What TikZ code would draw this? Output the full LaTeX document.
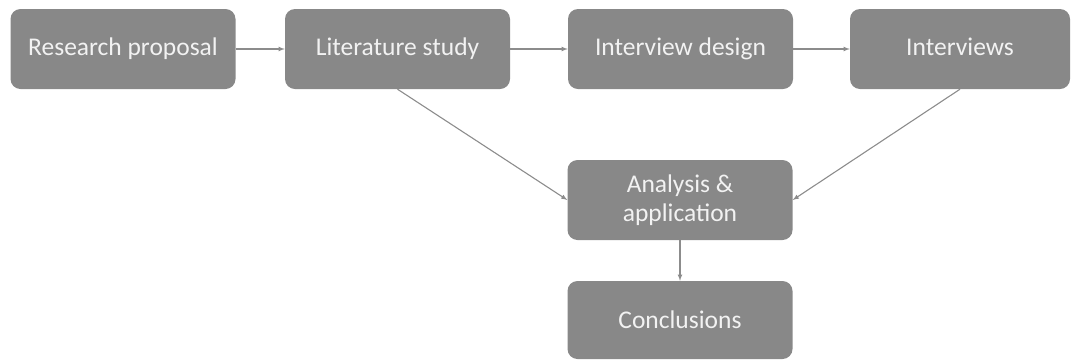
\documentclass[tikz,border=0pt]{standalone}
\usepackage{fontspec}
\setmainfont{Carlito}
\usetikzlibrary{arrows,positioning}
\definecolor{boxgray}{RGB}{136,136,136}
\definecolor{linkgray}{RGB}{140,140,140}
\definecolor{txtwhite}{RGB}{242,242,242}
\tikzstyle{stage}=[rectangle,rounded corners=10pt,fill=boxgray,
  text=txtwhite,minimum width=225pt,minimum height=80pt,
  align=center,font=\fontsize{25.5}{29}\selectfont]
\tikzstyle{link}=[>=latex,->,draw=linkgray,line width=1.1pt]

\begin{document}
\begin{tikzpicture}[x=1pt,y=-1pt]
    \useasboundingbox (0,0) rectangle (1072,360);

    % top row
    \node [stage] (propsl) at (123,49) {Research proposal};
    \node [stage] (lit) at (397.5,49) {Literature study};
    \node [stage] (design) at (680.5,49) {Interview design};
    \node [stage,minimum width=220pt,text depth=5.5pt] (intvw) at (960,49) {Interviews};

    % lower column
    \node [stage] (anlys) at (680,200) {Analysis \&\\application};
    \node [stage,minimum height=78pt] (concl) at (680,320) {Conclusions};

    \draw [link] (propsl) -- (lit);
    \draw [link] (lit) -- (design);
    \draw [link] (design) -- (intvw);
    \draw [link] (lit.south) -- (anlys.west);
    \draw [link] (intvw.south) -- (anlys.east);
    \draw [link] (anlys) -- (concl);
  \end{tikzpicture}
\end{document}
